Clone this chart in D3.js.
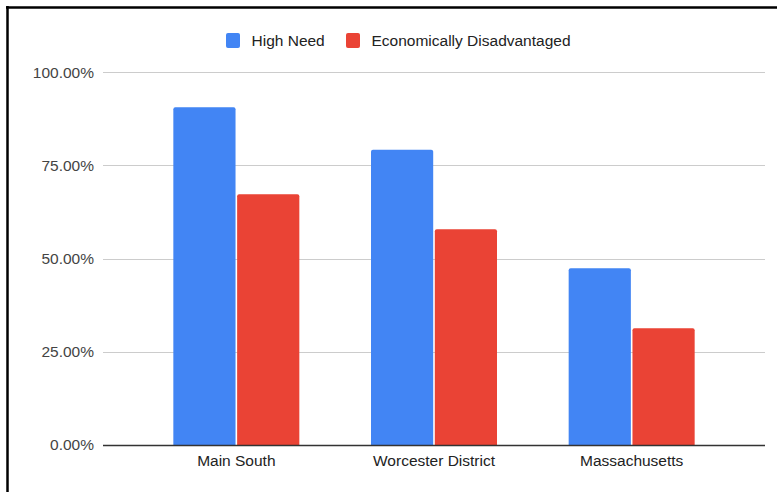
<!DOCTYPE html>
<html>
<head>
<meta charset="utf-8">
<script src="https://cdn.jsdelivr.net/npm/d3@7"></script>
<style>
  html, body { margin: 0; padding: 0; background: #fff; }
  svg { display: block; }
  text { font-family: Arial, "Liberation Sans", sans-serif; }
</style>
</head>
<body>
<svg id="chart" width="777" height="492"></svg>
<script>
// Share of students by group, per area
const categories = ["Main South", "Worcester District", "Massachusetts"];
const seriesNames = ["High Need", "Economically Disadvantaged"];
const highNeed = [0.906, 0.792, 0.474];
const econDisadvantaged = [0.673, 0.579, 0.313];
const yTicks = [0, 0.25, 0.5, 0.75, 1];
const colors = ["#4285f4", "#ea4335"];

const values = [highNeed, econDisadvantaged];
const rows = categories.map((c, i) => ({
  category: c,
  vals: seriesNames.map((s, j) => ({ series: s, value: values[j][i], color: colors[j] }))
}));

const fontSize = 15.5;
const svg = d3.select("#chart");

// frame lines along the top and left edges
svg.append("line").attr("x1", 6).attr("x2", 777).attr("y1", 7.5).attr("y2", 7.5)
  .attr("stroke", "#000").attr("stroke-width", 2.5);
svg.append("line").attr("x1", 7.5).attr("x2", 7.5).attr("y1", 6).attr("y2", 492)
  .attr("stroke", "#000").attr("stroke-width", 2.5);

const gridLeft = 103, gridRight = 765;
const y = d3.scaleLinear().domain([0, 1]).range([445, 72.3]);
const x0 = d3.scaleBand().domain(categories).range([137.5, 730.5]).padding(0);
const groupWidth = 126;
const x1 = d3.scaleBand().domain(seriesNames).range([0, groupWidth]).paddingInner(0.025);

// gridlines
svg.append("g").selectAll("line").data(yTicks.filter(t => t > 0)).join("line")
  .attr("x1", gridLeft).attr("x2", gridRight)
  .attr("y1", d => Math.round(y(d)) + 0.5).attr("y2", d => Math.round(y(d)) + 0.5)
  .attr("stroke", "#cccccc").attr("stroke-width", 1);

// y axis labels
const yAxis = d3.axisLeft(y).tickValues(yTicks).tickFormat(d3.format(".2%")).tickSize(0).tickPadding(0);
const yg = svg.append("g").attr("transform", `translate(${gridLeft - 9},0)`).call(yAxis);
yg.select(".domain").remove();
yg.selectAll("text").attr("font-size", fontSize).attr("fill", "#444")
  .attr("font-family", "Arial, 'Liberation Sans', sans-serif");

// bars
const groups = svg.append("g").selectAll("g").data(rows).join("g")
  .attr("transform", d => `translate(${x0(d.category) + (x0.bandwidth() - groupWidth) / 2},0)`);
groups.selectAll("path").data(d => d.vals).join("path")
  .attr("fill", d => d.color)
  .attr("d", d => {
    const bx = x1(d.series), bw = x1.bandwidth(), top = y(d.value), bot = y(0), r = 2;
    return `M${bx},${bot}V${top + r}Q${bx},${top} ${bx + r},${top}H${bx + bw - r}Q${bx + bw},${top} ${bx + bw},${top + r}V${bot}Z`;
  });

// baseline
svg.append("line").attr("x1", gridLeft).attr("x2", gridRight)
  .attr("y1", y(0) + 0.5).attr("y2", y(0) + 0.5)
  .attr("stroke", "#333").attr("stroke-width", 1.4);

// x axis labels
const xAxis = d3.axisBottom(x0).tickSize(0).tickPadding(0);
const xg = svg.append("g").attr("transform", `translate(0,${y(0) + 10})`).call(xAxis);
xg.select(".domain").remove();
xg.selectAll("text").attr("font-size", fontSize).attr("fill", "#222")
  .attr("font-family", "Arial, 'Liberation Sans', sans-serif");

// legend
const legendX = [226, 346];
const legend = svg.append("g").selectAll("g").data(seriesNames).join("g")
  .attr("transform", (d, i) => `translate(${legendX[i]},33)`);
legend.append("rect").attr("width", 14).attr("height", 15).attr("rx", 2)
  .attr("fill", (d, i) => colors[i]);
legend.append("text").attr("x", 25.5).attr("y", 13).text(d => d)
  .attr("font-size", fontSize).attr("fill", "#222");
</script>
</body>
</html>
